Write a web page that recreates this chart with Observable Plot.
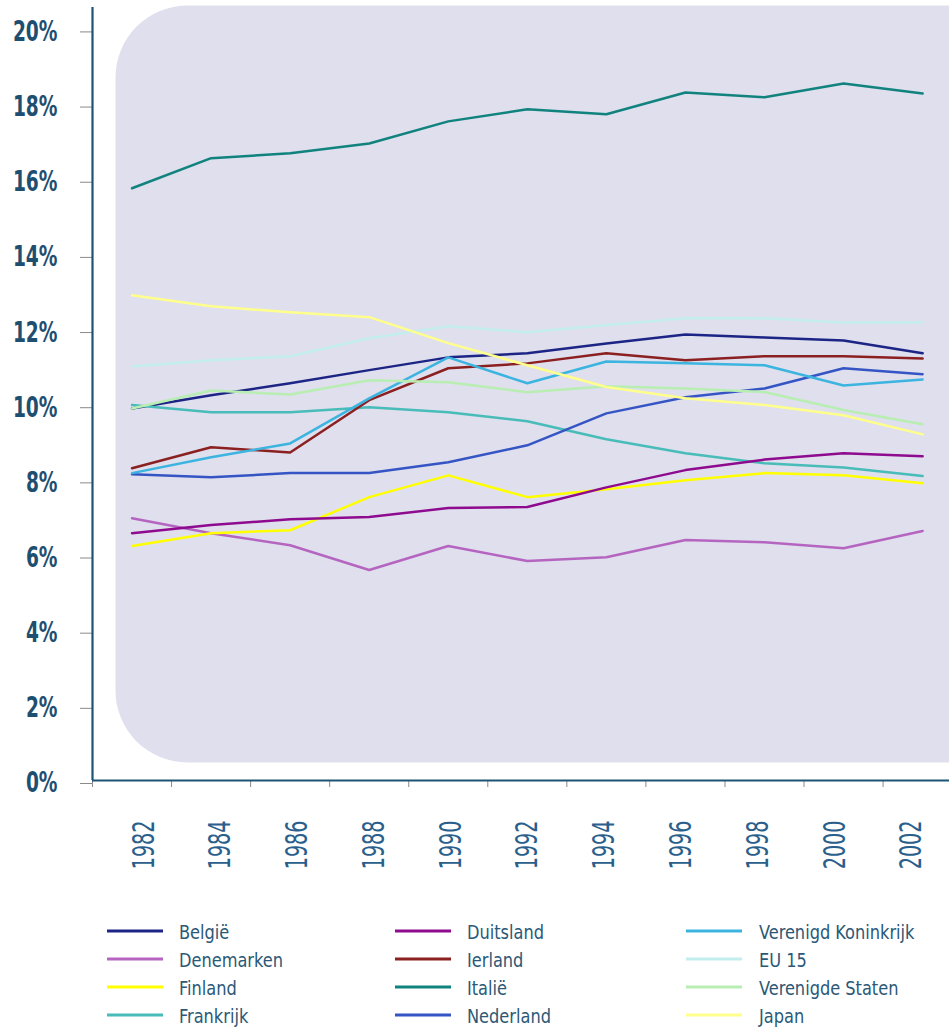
<!DOCTYPE html>
<html><head><meta charset="utf-8">
<script src="https://cdn.jsdelivr.net/npm/d3@7"></script>
<script src="https://cdn.jsdelivr.net/npm/@observablehq/plot@0.6"></script>
<style>
html,body{margin:0;padding:0;background:#fff;overflow:hidden;width:949px;height:1028px}
#chart{position:absolute;left:0;top:0}
#legend{position:absolute;left:0;top:0;width:949px;height:1028px}
.lab{position:absolute;font-family:"DejaVu Sans Condensed","DejaVu Sans",sans-serif;font-stretch:condensed;font-size:20px;color:#2b5876;line-height:1;transform:translateY(-50%) scaleX(0.9);transform-origin:left center;white-space:nowrap}
.sw{position:absolute;height:3px;width:56px;transform:translateY(-50%)}
</style></head><body>
<div id="chart"></div><div id="legend"></div>
<script>
const years = [1982,1984,1986,1988,1990,1992,1994,1996,1998,2000,2002];
const tickYears = [1981,1983,1985,1987,1989,1991,1993,1995,1997,1999,2001];
const yTicks = [0,2,4,6,8,10,12,14,16,18,20];
const series = ["België","Denemarken","Finland","Frankrijk","Duitsland","Ierland","Italië","Nederland","Verenigd Koninkrijk","EU 15","Verenigde Staten","Japan"];
const colors = ["#1c2585","#b565c0","#ffff00","#48bcb8","#8e0a8e","#8b2020","#11837e","#3555c5","#3cb4e0","#c4eeee","#b8eeb2","#ffff8c"];

const belgie      = [9.90,10.25,10.57,10.92,11.26,11.37,11.63,11.87,11.79,11.71,11.37];
const denemarken  = [6.98,6.58,6.26,5.60,6.24,5.84,5.94,6.40,6.34,6.18,6.64];
const finland     = [6.24,6.58,6.66,7.54,8.12,7.54,7.75,7.99,8.18,8.12,7.91];
const frankrijk   = [9.99,9.80,9.80,9.93,9.80,9.56,9.08,8.71,8.44,8.33,8.10];
const duitsland   = [6.58,6.80,6.95,7.01,7.25,7.28,7.80,8.26,8.54,8.71,8.63];
const ierland     = [8.31,8.87,8.73,10.12,10.97,11.10,11.37,11.18,11.29,11.29,11.23];
const italie      = [15.76,16.56,16.69,16.95,17.54,17.86,17.73,18.31,18.18,18.55,18.28];
const nederland   = [8.15,8.07,8.18,8.18,8.47,8.92,9.77,10.20,10.43,10.97,10.81];
const vk          = [8.18,8.60,8.97,10.17,11.26,10.57,11.15,11.10,11.05,10.51,10.67];
const eu15        = [11.02,11.18,11.29,11.77,12.09,11.93,12.12,12.30,12.30,12.19,12.19];
const vs          = [9.90,10.38,10.27,10.65,10.60,10.33,10.49,10.43,10.34,9.86,9.48];
const japan       = [12.91,12.62,12.46,12.33,11.64,11.05,10.47,10.17,9.99,9.72,9.21];

const values = [belgie,denemarken,finland,frankrijk,duitsland,ierland,italie,nederland,vk,eu15,vs,japan];
const data = [];
series.forEach((s,i) => values[i].forEach((v,j) => data.push({year: years[j], value: v, series: s})));

const font = '"DejaVu Sans Condensed","DejaVu Sans",sans-serif';
const axisColor = "#1d5473";
// the reference's year labels sit on a slightly tighter spacing than the data points
const labelX = d => 1982.266 + (d - 1982) * 0.9712;

const plot = Plot.plot({
  width: 949, height: 900,
  marginLeft: 92, marginRight: 0, marginTop: 7, marginBottom: 120,
  style: {overflow: "hidden", background: "transparent"},
  x: {domain: [1981, 2002.68]},
  y: {domain: [0, 20.57]},
  color: {domain: series, range: colors},
  marks: [
    Plot.frame({fill: "#dfdfed", stroke: null, rx: 72, ry: 72, insetLeft: 23, insetTop: -2, insetBottom: 18, insetRight: -150}),
    Plot.axisY({ticks: yTicks, tickFormat: d => d + "%", tickSize: 12, tickPadding: 23, dy: 3,
      fontSize: 28, fontWeight: "bold", fontFamily: font, fill: "#1f4f70", stroke: "#8a8a8a", label: null}),
    Plot.axisX({ticks: tickYears, tickFormat: () => "", tickSize: 7, stroke: "#8a8a8a", label: null}),
    Plot.text(years, {x: labelX, frameAnchor: "bottom", dy: 40, dx: 11, rotate: -90, textAnchor: "end",
      text: d => String(d), fontSize: 30, fontFamily: font, fill: "#2a5f8c"}),
    Plot.line(data, {x: "year", y: "value", z: "series", stroke: "series", strokeWidth: 2.5}),
    Plot.ruleX([1981], {stroke: axisColor, strokeWidth: 2.2}),
    Plot.ruleY([0], {stroke: axisColor, strokeWidth: 2.2})
  ]
});
document.getElementById("chart").appendChild(plot);

// condense axis texts horizontally (the reference uses a narrow typeface)
function squeeze(sel, k) {
  plot.querySelectorAll(sel).forEach(el => {
    const w = el.getComputedTextLength();
    if (w > 0) {
      el.setAttribute("textLength", (w * k).toFixed(1));
      el.setAttribute("lengthAdjust", "spacingAndGlyphs");
    }
  });
}
squeeze('g[aria-label="y-axis tick label"] text', 0.74);
squeeze('g[aria-label="text"] text', 0.71);

// legend below the chart
const legend = document.getElementById("legend");
const swX = [107, 395, 686], txX = [179, 467, 759], rowY = [931, 959, 986.5, 1014.5];
series.forEach((s, i) => {
  const col = Math.floor(i / 4), row = i % 4;
  const sw = document.createElement("div");
  sw.className = "sw";
  sw.style.left = swX[col] + "px";
  sw.style.top = rowY[row] + "px";
  sw.style.background = colors[i];
  legend.appendChild(sw);
  const t = document.createElement("div");
  t.className = "lab";
  t.style.left = txX[col] + "px";
  t.style.top = (rowY[row] + 1) + "px";
  t.textContent = s;
  legend.appendChild(t);
});
</script>
</body></html>
